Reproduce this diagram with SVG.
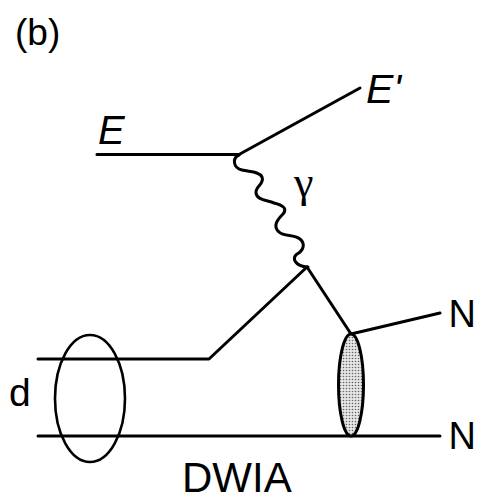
<svg xmlns="http://www.w3.org/2000/svg" width="481" height="502" viewBox="0 0 481 502">
<style>
.ln{fill:none;stroke:#000;stroke-width:3;stroke-linecap:round;stroke-linejoin:round}
.t{font-family:"Liberation Sans",Arial,sans-serif;fill:#000}
.it{font-style:italic}
.g{font-family:"Liberation Serif","Times New Roman",serif;fill:#000}
</style>
<defs>
<pattern id="dots" width="3" height="3" patternUnits="userSpaceOnUse">
<rect width="3" height="3" fill="#e6e6e6"/>
<circle cx="1.5" cy="1.5" r="0.8" fill="#666"/>
</pattern>
</defs>
<text class="t" x="15" y="45" font-size="37">(b)</text>
<g id="connectors">
<line class="ln" x1="97" y1="154.5" x2="239" y2="154.5"/>
<line class="ln" x1="239" y1="154.5" x2="360" y2="88"/>
<path class="ln" d="M239,155 C232,158 233,168 242,170 C250,172 259,171 262,177 C265,184 255,186 256,193 C257,200 266,200 274,203 C282,205 288,208 283,214 C278,219 272,226 279,232 C284,237 294,234 300,239 C306,244 303,251 297,254 C292,258 294,266 308,267"/>
<polyline class="ln" points="38,359 209,359 307,267 351,334 440,313"/>
<line class="ln" x1="38" y1="436" x2="440" y2="436"/>
</g>
<g id="electron">
<text class="t it" x="98" y="144" font-size="40">E</text>
<text class="t it" x="366" y="103" font-size="41">E'</text>
</g>
<g id="photon">
<text class="g" x="294" y="197" font-size="44">γ</text>
</g>
<g id="deuteron">
<ellipse cx="90" cy="398.5" rx="35" ry="63.5" fill="none" stroke="#000" stroke-width="2.6"/>
<text class="t" x="9" y="406" font-size="39">d</text>
</g>
<g id="fsi">
<ellipse cx="351" cy="385" rx="12.5" ry="51" fill="url(#dots)" stroke="#000" stroke-width="3"/>
</g>
<g id="nucleons">
<text class="t" x="448.5" y="327" font-size="38">N</text>
<text class="t" x="448.5" y="449" font-size="38">N</text>
</g>
<text class="t" x="182" y="492" font-size="42">DWIA</text>
</svg>
